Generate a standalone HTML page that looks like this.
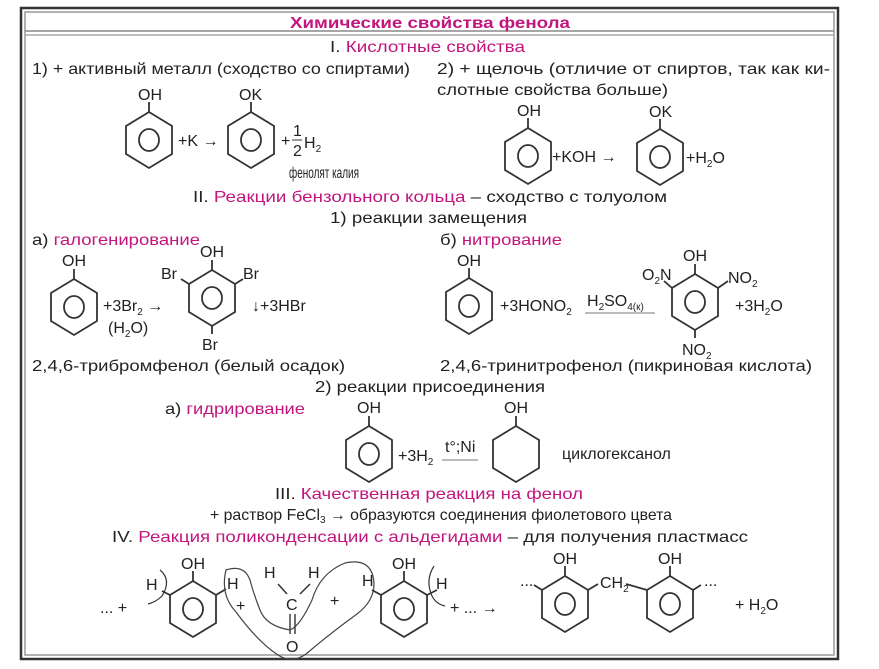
<!DOCTYPE html>
<html><head><meta charset="utf-8"><style>
html,body{margin:0;padding:0;background:#fff}
svg{display:block}
text{font-family:"Liberation Sans",Arial,sans-serif;fill:#222;font-size:16px}
.m{fill:#c2157d}
.s{font-size:16px}
.sub{font-size:10px}
</style></head><body>
<svg width="879" height="669" viewBox="0 0 879 669" xmlns="http://www.w3.org/2000/svg">
<defs>
<g id="bz"><polygon points="0,-28 23,-14 23,14 0,28 -23,14 -23,-14" fill="none" stroke="#333" stroke-width="1.8"/><ellipse cx="0" cy="0" rx="10" ry="11" fill="none" stroke="#333" stroke-width="1.8"/><line x1="0" y1="-28" x2="0" y2="-38" stroke="#333" stroke-width="1.8"/></g>
<g id="cy"><polygon points="0,-28 23,-14 23,14 0,28 -23,14 -23,-14" fill="none" stroke="#333" stroke-width="1.8"/><line x1="0" y1="-28" x2="0" y2="-38" stroke="#333" stroke-width="1.8"/></g>
</defs>
<rect x="21" y="8" width="817" height="651" fill="none" stroke="#333" stroke-width="2.5"/>
<rect x="25" y="12" width="809" height="643" fill="none" stroke="#999" stroke-width="1.5"/>
<line x1="25" y1="31" x2="834" y2="31" stroke="#888" stroke-width="1.5"/>
<line x1="25" y1="35" x2="834" y2="35" stroke="#aaa" stroke-width="1.5"/>

<text x="290" y="28" class="m" font-weight="bold" textLength="280" lengthAdjust="spacingAndGlyphs">Химические свойства фенола</text>
<text x="330" y="52" textLength="195" lengthAdjust="spacingAndGlyphs">I. <tspan class="m">Кислотные свойства</tspan></text>
<text x="32" y="74" textLength="378" lengthAdjust="spacingAndGlyphs">1) + активный металл (сходство со спиртами)</text>
<text x="437" y="74" textLength="393" lengthAdjust="spacingAndGlyphs">2) + щелочь (отличие от спиртов, так как ки-</text>
<text x="437" y="95" textLength="231" lengthAdjust="spacingAndGlyphs">слотные свойства больше)</text>

<use href="#bz" x="149" y="140"/><text x="138" y="100" class="s">OH</text>
<text x="178" y="146" class="s">+K →</text>
<use href="#bz" x="251" y="140"/><text x="239" y="100" class="s">OK</text>
<text x="281" y="146" class="s">+</text>
<text x="293" y="136" class="s">1</text><line x1="292" y1="140" x2="302" y2="140" stroke="#333"/><text x="293" y="156" class="s">2</text>
<text x="304" y="148" class="s">H<tspan class="sub" dy="4">2</tspan></text>
<text x="289" y="178" class="s" textLength="70" lengthAdjust="spacingAndGlyphs">фенолят калия</text>

<use href="#bz" x="528" y="156"/><text x="517" y="116" class="s">OH</text>
<text x="552" y="162" class="s">+KOH →</text>
<use href="#bz" x="660" y="157"/><text x="649" y="117" class="s">OK</text>
<text x="686" y="163" class="s">+H<tspan class="sub" dy="4">2</tspan><tspan dy="-4">O</tspan></text>

<text x="193" y="202" textLength="474" lengthAdjust="spacingAndGlyphs">II. <tspan class="m">Реакции бензольного кольца</tspan> – сходство с толуолом</text>
<text x="330" y="223" textLength="197" lengthAdjust="spacingAndGlyphs">1) реакции замещения</text>
<text x="32" y="245" textLength="168" lengthAdjust="spacingAndGlyphs">а) <tspan class="m">галогенирование</tspan></text>
<text x="440" y="245" textLength="122" lengthAdjust="spacingAndGlyphs">б) <tspan class="m">нитрование</tspan></text>

<use href="#bz" x="74" y="307"/><text x="62" y="266" class="s">OH</text>
<text x="103" y="311" class="s">+3Br<tspan class="sub" dy="4">2</tspan><tspan dy="-4"> →</tspan></text>
<text x="108" y="333" class="s">(H<tspan class="sub" dy="4">2</tspan><tspan dy="-4">O)</tspan></text>
<use href="#bz" x="212" y="298"/><text x="200" y="257" class="s">OH</text>
<path d="M189,284 L181,279 M235,284 L243,279 M212,326 L212,334" stroke="#333" stroke-width="1.8"/>
<text x="161" y="279" class="s">Br</text><text x="243" y="279" class="s">Br</text><text x="202" y="350" class="s">Br</text>
<text x="252" y="311" class="s">↓+3HBr</text>
<text x="32" y="371" textLength="313" lengthAdjust="spacingAndGlyphs">2,4,6-трибромфенол (белый осадок)</text>

<use href="#bz" x="469" y="306"/><text x="457" y="266" class="s">OH</text>
<text x="500" y="311" class="s">+3HONO<tspan class="sub" dy="4">2</tspan></text>
<text x="587" y="306" class="s">H<tspan class="sub" dy="4">2</tspan><tspan dy="-4">SO</tspan><tspan class="sub" dy="4">4(к)</tspan></text>
<line x1="585" y1="313" x2="655" y2="313" stroke="#777"/>
<use href="#bz" x="695" y="302"/><text x="683" y="261" class="s">OH</text>
<path d="M672,288 L664,281 M718,288 L728,281 M695,330 L695,338" stroke="#333" stroke-width="1.8"/>
<text x="642" y="280" class="s">O<tspan class="sub" dy="4">2</tspan><tspan dy="-4">N</tspan></text>
<text x="728" y="283" class="s">NO<tspan class="sub" dy="4">2</tspan></text>
<text x="682" y="355" class="s">NO<tspan class="sub" dy="4">2</tspan></text>
<text x="735" y="311" class="s">+3H<tspan class="sub" dy="4">2</tspan><tspan dy="-4">O</tspan></text>
<text x="440" y="371" textLength="372" lengthAdjust="spacingAndGlyphs">2,4,6-тринитрофенол (пикриновая кислота)</text>

<text x="315" y="392" textLength="230" lengthAdjust="spacingAndGlyphs">2) реакции присоединения</text>
<text x="165" y="414" textLength="140" lengthAdjust="spacingAndGlyphs">а) <tspan class="m">гидрирование</tspan></text>

<use href="#bz" x="369" y="454"/><text x="357" y="413" class="s">OH</text>
<text x="398" y="461" class="s">+3H<tspan class="sub" dy="4">2</tspan></text>
<text x="445" y="452" class="s">t°;Ni</text>
<line x1="442" y1="460" x2="478" y2="460" stroke="#777"/>
<use href="#cy" x="516" y="454"/><text x="504" y="413" class="s">OH</text>
<text x="562" y="459" class="s">циклогексанол</text>

<text x="275" y="499" textLength="308" lengthAdjust="spacingAndGlyphs">III. <tspan class="m">Качественная реакция на фенол</tspan></text>
<text x="210" y="520" textLength="462" lengthAdjust="spacingAndGlyphs">+ раствор FeCl<tspan class="sub" dy="3">3</tspan><tspan dy="-3"> → образуются соединения фиолетового цвета</tspan></text>
<text x="112" y="542" textLength="636" lengthAdjust="spacingAndGlyphs">IV. <tspan class="m">Реакция поликонденсации с альдегидами</tspan> – для получения пластмасс</text>

<text x="100" y="613" class="s">... +</text>
<use href="#bz" x="193" y="609"/><text x="181" y="569" class="s">OH</text>
<path d="M170,595 L162,591 M216,595 L226,589" stroke="#333" stroke-width="1.8"/>
<text x="146" y="590" class="s">H</text>
<path d="M160,570 Q172,580 162,596 Q156,602 148,604" fill="none" stroke="#333" stroke-width="1.2"/>
<text x="227" y="589" class="s">H</text>
<text x="236" y="611" class="s">+</text>
<text x="264" y="578" class="s">H</text><text x="308" y="578" class="s">H</text>
<path d="M278,584 L287,594 M310,584 L300,594" stroke="#333" stroke-width="1.5"/>
<text x="286" y="610" class="s">C</text>
<path d="M290,614 L290,634 M295,614 L295,634" stroke="#333" stroke-width="1.4"/>
<text x="286" y="652" class="s">O</text>
<text x="330" y="606" class="s">+</text>
<path d="M226,570 Q220,595 236,612 Q258,642 278,655 Q292,664 306,654 Q332,632 357,614 Q378,598 373,576 Q368,558 345,563 Q320,573 312,600 Q300,626 290,630 Q266,626 260,610 Q254,595 250,580 Q244,564 226,570 Z" fill="none" stroke="#444" stroke-width="1.2"/>
<use href="#bz" x="404" y="609"/><text x="392" y="569" class="s">OH</text>
<path d="M381,595 L372,590 M427,595 L437,590" stroke="#333" stroke-width="1.8"/>
<text x="362" y="586" class="s">H</text>
<text x="436" y="589" class="s">H</text>
<path d="M434,566 Q425,580 432,596 Q436,604 445,606" fill="none" stroke="#333" stroke-width="1.2"/>
<text x="450" y="613" class="s">+ ... →</text>
<use href="#bz" x="565" y="604"/><text x="553" y="564" class="s">OH</text>
<path d="M542,590 L534,585 M588,590 L598,584" stroke="#333" stroke-width="1.8"/>
<text x="520" y="586" class="s">...</text>
<text x="600" y="588" class="s">CH<tspan class="sub" dy="4">2</tspan></text>
<path d="M626,584 L647,590" stroke="#333" stroke-width="1.8"/>
<use href="#bz" x="670" y="604"/><text x="658" y="564" class="s">OH</text>
<path d="M693,590 L701,585" stroke="#333" stroke-width="1.8"/>
<text x="704" y="586" class="s">...</text>
<text x="735" y="610" class="s">+ H<tspan class="sub" dy="4">2</tspan><tspan dy="-4">O</tspan></text>
</svg>
</body></html>
